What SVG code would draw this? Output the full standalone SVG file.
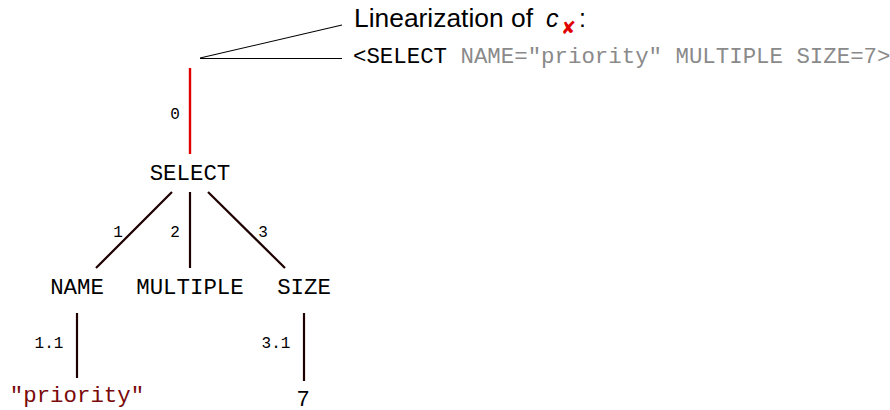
<svg xmlns="http://www.w3.org/2000/svg" width="890" height="410" viewBox="0 0 890 410">
<style>
.mono{font-family:"Liberation Mono","DejaVu Sans Mono",monospace;font-size:22.4px;fill:#000}
.lbl{font-family:"Liberation Mono","DejaVu Sans Mono",monospace;font-size:16px;fill:#000}
.sans{font-family:"Liberation Sans","DejaVu Sans",sans-serif;fill:#000}
.edge{stroke:#1e0000;stroke-width:2.2;fill:none}
.red{stroke:#e00000;stroke-width:2.4;fill:none}
.thin{stroke:#000;stroke-width:1.1;fill:none}
.grey{fill:#8a8a8a}
</style>
<rect width="890" height="410" fill="#fff"/>
<g id="connectors">
<line class="thin" x1="200" y1="58" x2="342" y2="25"/>
<line class="thin" x1="200" y1="58.5" x2="342" y2="58.5"/>
<line class="red" x1="190" y1="68" x2="190" y2="154"/>
<line class="edge" x1="172" y1="192" x2="96" y2="268"/>
<line class="edge" x1="190" y1="192" x2="190" y2="268"/>
<line class="edge" x1="208" y1="192" x2="285" y2="268"/>
<line class="edge" x1="77" y1="313" x2="77" y2="378"/>
<line class="edge" x1="304" y1="313" x2="304" y2="381"/>
<text class="lbl" x="175" y="119" text-anchor="middle">0</text>
<text class="lbl" x="118" y="237" text-anchor="middle">1</text>
<text class="lbl" x="175" y="237" text-anchor="middle">2</text>
<text class="lbl" x="263" y="237" text-anchor="middle">3</text>
<text class="lbl" x="49" y="348" text-anchor="middle">1.1</text>
<text class="lbl" x="276" y="348" text-anchor="middle">3.1</text>
</g>
<g id="caption">
<text class="sans" x="354" y="27" font-size="25" textLength="179" lengthAdjust="spacingAndGlyphs">Linearization of</text>
<text class="sans" x="546" y="27" font-size="25" font-style="italic">c</text>
<text x="561" y="34" font-size="18" font-weight="bold" fill="#e00000" font-family="'DejaVu Sans',sans-serif">✘</text>
<text class="sans" x="579" y="27" font-size="25">:</text>
<text class="mono" x="353" y="63">&lt;SELECT <tspan class="grey">NAME="priority" MULTIPLE SIZE=7&gt;</tspan></text>
</g>
<g id="n-select"><text class="mono" x="190" y="180" text-anchor="middle">SELECT</text></g>
<g id="n-name"><text class="mono" x="77" y="294" text-anchor="middle">NAME</text></g>
<g id="n-multiple"><text class="mono" x="190" y="294" text-anchor="middle">MULTIPLE</text></g>
<g id="n-size"><text class="mono" x="304" y="294" text-anchor="middle">SIZE</text></g>
<g id="n-priority"><text class="mono" x="77" y="402" text-anchor="middle" style="fill:#7a0a0a">"priority"</text></g>
<g id="n-7"><text class="sans" x="303" y="406" font-size="22" text-anchor="middle">7</text></g>
</svg>
